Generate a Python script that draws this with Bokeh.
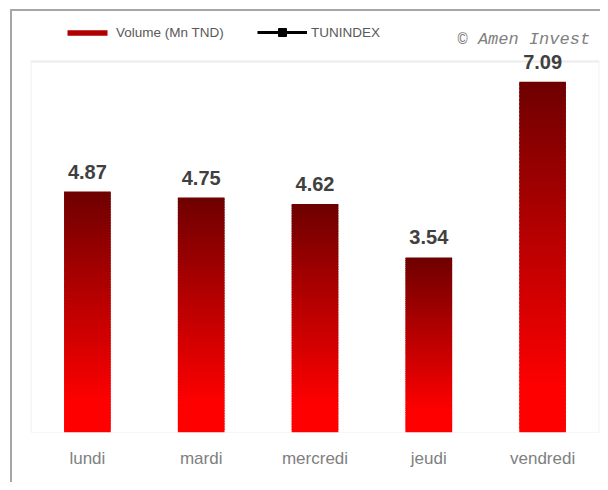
import numpy as np
from bokeh.plotting import figure
from bokeh.models import (ColumnDataSource, Legend, LegendItem, Label, LabelSet,
                          BoxAnnotation, Span)
from bokeh.embed import file_html
from bokeh.resources import INLINE
from bokeh.core.properties import value

days = ["lundi", "mardi", "mercredi", "jeudi", "vendredi"]
volumes = [4.87, 4.75, 4.62, 3.54, 7.09]
volume_labels = ["4.87", "4.75", "4.62", "3.54", "7.09"]

TOP_RGB = np.array([0x6e, 0x00, 0x00])
BOT_RGB = np.array([0xff, 0x00, 0x00])
N = 90

xs, bottoms, tops, colors = [], [], [], []
for d, v in zip(days, volumes):
    for i in range(N):
        b = v * i / N
        t = v * (i + 1) / N if i == N - 1 else v * (i + 1.6) / N
        frac_from_top = 1 - (i + 0.5) / N
        s = min(frac_from_top / 0.88, 1.0)  # 0 at top, 1 at 88% down
        rgb = TOP_RGB + (BOT_RGB - TOP_RGB) * s
        xs.append(d)
        bottoms.append(b)
        tops.append(t)
        colors.append("#%02x%02x%02x" % tuple(int(round(c)) for c in rgb))

seg_src = ColumnDataSource(dict(x=xs, bottom=bottoms, top=tops, color=colors))
lab_src = ColumnDataSource(dict(x=days, y=volumes, text=volume_labels))

Y_BOX_TOP = 7.5
p = figure(x_range=days, y_range=(0, 8.43), width=600, height=482,
           output_backend="svg", toolbar_location=None,
           min_border_left=30, min_border_right=1,
           min_border_top=15, min_border_bottom=50)
p.styles = {
    "background": "linear-gradient(#a6a6a6, #a6a6a6) 10px 9px / 2px 100% no-repeat, "
                  "linear-gradient(#a6a6a6, #a6a6a6) 10px 9px / 100% 2px no-repeat, white"
}
p.border_fill_color = None
p.background_fill_color = "white"
p.outline_line_color = None

# inner plot box
p.add_layout(BoxAnnotation(bottom=0, top=Y_BOX_TOP, left=0.5, right=568.5,
                           left_units="screen", right_units="screen",
                           fill_alpha=0, line_color="#c4c4c4", line_width=1))
p.add_layout(Span(location=Y_BOX_TOP, dimension="width", line_color="#ececec", line_width=2))

p.vbar(x="x", bottom="bottom", top="top", width=0.41, source=seg_src,
       fill_color="color", line_color=None)

p.add_layout(LabelSet(x="x", y="y", text="text", source=lab_src, y_offset=13,
                      text_align="center", text_baseline="alphabetic",
                      text_font=value("Liberation Sans"), text_font_style="bold",
                      text_font_size="20px", text_color="#404040"))

# legend-only renderers (no visible data in the plot)
nan = float("nan")
r_vol = p.vbar(x=["lundi"], top=[nan], width=0.4, fill_color="#b00000", line_color=None)
r_line = p.line(x=["lundi"], y=[nan], line_color="black", line_width=3)
r_sq = p.scatter(x=["lundi"], y=[nan], marker="square", size=8,
                 fill_color="black", line_color="black")

common = dict(orientation="horizontal", glyph_width=50, label_standoff=4,
              padding=0, margin=0, border_line_color=None, background_fill_alpha=0,
              label_text_font="Liberation Sans", label_text_font_size="13.5px",
              label_text_color="#595959")
legend1 = Legend(items=[LegendItem(label="Volume (Mn TND)", renderers=[r_vol])],
                 location=(32, 392), glyph_height=7, **common)
legend2 = Legend(items=[LegendItem(label="TUNINDEX", renderers=[r_line, r_sq])],
                 location=(227, 390), glyph_height=20, **common)
p.add_layout(legend1, "center")
p.add_layout(legend2, "center")

p.add_layout(Label(x=427, y=393, x_units="screen", y_units="screen",
                   text="© Amen Invest", text_font="Liberation Mono",
                   text_font_style="italic", text_font_size="17px",
                   text_color="#808080", text_baseline="alphabetic"))

p.yaxis.visible = False
p.xgrid.grid_line_color = None
p.ygrid.grid_line_color = None
p.xaxis.axis_line_color = None
p.xaxis.major_tick_line_color = None
p.xaxis.minor_tick_line_color = None
p.xaxis.major_label_standoff = 10
p.xaxis.major_label_text_font = "Liberation Sans"
p.xaxis.major_label_text_font_size = "17px"
p.xaxis.major_label_text_color = "#808080"

open("out.html", "w").write(file_html(p, INLINE))
